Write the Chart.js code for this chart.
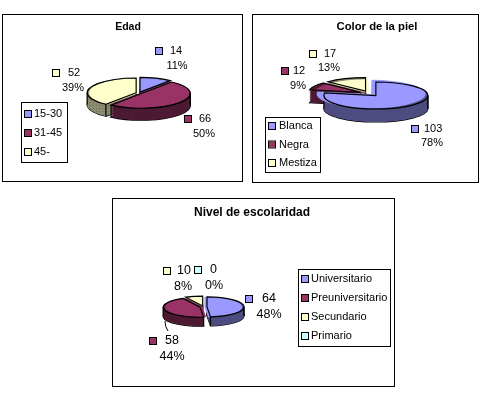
<!DOCTYPE html>
<html>
<head>
<meta charset="utf-8">
<title>Edad, color de la piel y nivel de escolaridad</title>
<script src="https://cdn.jsdelivr.net/npm/chart.js@4"></script>
<style>
  html, body { margin: 0; background: #fff; }
  #page { position: relative; width: 480px; height: 393px; overflow: hidden; }
  canvas { position: absolute; left: 0; top: 0; }
</style>
</head>
<body>
<div id="page">
  <canvas id="edad" width="480" height="393"></canvas>
  <canvas id="piel" width="480" height="393"></canvas>
  <canvas id="nivel" width="480" height="393"></canvas>
</div>
<script>
// data
const edadLabels = ['15-30', '31-45', '45-'];
const edadValues = [14, 66, 52];
const pielLabels = ['Blanca', 'Negra', 'Mestiza'];
const pielValues = [103, 12, 17];
const nivelLabels = ['Universitario', 'Preuniversitario', 'Secundario', 'Primario'];
const nivelValues = [64, 58, 10, 0];

const topColors = ['#9999FF', '#993366', '#FFFFCC', '#CCFFFF'];
const sideColors = ['#4D4D80', '#4D1A33', '#808066', '#668080'];
const FONT_FAMILY = '"Liberation Sans", Arial, sans-serif';

// the yellow wall is dithered in the original
function ditherFill(ctx) {
  const tile = document.createElement('canvas');
  tile.width = tile.height = 3;
  const t = tile.getContext('2d');
  t.fillStyle = '#8C8C70';
  t.fillRect(0, 0, 3, 3);
  t.fillStyle = '#6E6E58';
  t.fillRect(0, 0, 1, 1);
  return ctx.createPattern(tile, 'repeat');
}

function arcInfo(arc, p) {
  const mid = (arc.startAngle + arc.endAngle) / 2;
  return {
    x: arc.x + Math.cos(mid) * p.offset,
    y: arc.y + Math.sin(mid) * p.offset * p.tilt,
    r: arc.outerRadius, s: arc.startAngle, e: arc.endAngle
  };
}

function slicePath(ctx, a, tilt, dy) {
  ctx.save();
  ctx.translate(a.x, a.y + dy);
  ctx.scale(1, tilt);
  ctx.beginPath();
  ctx.moveTo(0, 0);
  ctx.arc(0, 0, a.r, a.s, a.e);
  ctx.closePath();
  ctx.restore();
}

function swatch(ctx, x, y, color) {
  ctx.fillStyle = color;
  ctx.fillRect(x - 3, y - 3, 6, 6);
  ctx.strokeStyle = '#000';
  ctx.lineWidth = 1;
  ctx.strokeRect(x - 3.5, y - 3.5, 7, 7);
}

// flattens the pie and pushes the side walls under it
const tiltedPie = {
  id: 'tiltedPie',
  beforeDatasetsDraw(chart, args, p) {
    const ctx = chart.ctx;
    const arcs = chart.getDatasetMeta(0).data;
    const order = arcs.map((arc, i) => ({ i, a: arcInfo(arc, p) }))
      .filter(o => o.a.e > o.a.s)
      .sort((u, v) => u.a.y - v.a.y);
    ctx.lineWidth = 1.2;
    ctx.strokeStyle = '#000';
    order.forEach(({ i, a }) => {
      slicePath(ctx, a, p.tilt, p.depth);
      ctx.stroke();
      ctx.fillStyle = i === 2 ? ditherFill(ctx) : sideColors[i];
      for (let d = p.depth; d >= 0; d--) {
        slicePath(ctx, a, p.tilt, d);
        ctx.fill();
      }
      // corners of the wall that face the viewer
      [a.s, a.e, Math.PI, Math.PI * 2, 0].forEach(t => {
        const inside = (t >= a.s && t <= a.e) || (t - Math.PI * 2 >= a.s && t - Math.PI * 2 <= a.e);
        if (!inside || Math.sin(t) < -0.01) return;
        const px = a.x + Math.cos(t) * a.r;
        const py = a.y + Math.sin(t) * a.r * p.tilt;
        ctx.beginPath();
        ctx.moveTo(px, py);
        ctx.lineTo(px, py + p.depth);
        ctx.stroke();
      });
      ctx.beginPath();
      ctx.moveTo(a.x, a.y);
      ctx.lineTo(a.x, a.y + p.depth);
      ctx.stroke();
    });
    const c = arcs[0];
    ctx.save();
    ctx.translate(c.x, c.y);
    ctx.scale(1, p.tilt);
    ctx.translate(-c.x, -c.y);
  },
  afterDatasetsDraw(chart, args, p) {
    const ctx = chart.ctx;
    ctx.restore();
    ctx.lineWidth = 1.2;
    ctx.strokeStyle = '#000';
    chart.getDatasetMeta(0).data.forEach(arc => {
      const a = arcInfo(arc, p);
      if (a.e <= a.s) return;
      slicePath(ctx, a, p.tilt, 0);
      ctx.stroke();
    });
  }
};

// frame, title, data labels and legend box, as the old spreadsheet laid them out
const sheetFrame = {
  id: 'sheetFrame',
  afterDraw(chart, args, p) {
    const ctx = chart.ctx;
    const labels = chart.data.labels;
    const values = chart.data.datasets[0].data;
    const total = values.reduce((s, v) => s + v, 0);
    ctx.save();
    ctx.strokeStyle = '#000';
    ctx.lineWidth = 1;
    ctx.strokeRect(p.frame[0] + 0.5, p.frame[1] + 0.5, p.frame[2], p.frame[3]);
    ctx.fillStyle = '#000';
    ctx.textBaseline = 'middle';
    ctx.font = 'bold ' + p.titleSize + 'px ' + FONT_FAMILY;
    ctx.textAlign = 'center';
    ctx.fillText(p.title, p.titlePos[0], p.titlePos[1]);

    ctx.font = p.labelSize + 'px ' + FONT_FAMILY;
    p.dataLabels.forEach((d, i) => {
      swatch(ctx, d.sx, d.sy, topColors[i]);
      ctx.fillStyle = '#000';
      ctx.textAlign = 'left';
      ctx.fillText(String(values[i]), d.vx, d.sy);
      ctx.textAlign = 'center';
      ctx.fillText(Math.round(values[i] / total * 100) + '%', d.px, d.py);
    });

    if (p.leader) {
      ctx.strokeStyle = '#000';
      ctx.beginPath();
      ctx.moveTo(p.leader[0], p.leader[1]);
      ctx.quadraticCurveTo(p.leader[0], p.leader[3] - 4, p.leader[2], p.leader[3]);
      ctx.stroke();
    }

    const b = p.legend;
    ctx.font = '11px ' + FONT_FAMILY;
    ctx.fillStyle = '#fff';
    ctx.fillRect(b.x, b.y, b.w, b.h);
    ctx.strokeStyle = '#000';
    ctx.strokeRect(b.x + 0.5, b.y + 0.5, b.w, b.h);
    labels.forEach((name, i) => {
      const y = b.first + i * b.step;
      swatch(ctx, b.sx, y, topColors[i]);
      ctx.fillStyle = '#000';
      ctx.textAlign = 'left';
      ctx.fillText(name, b.tx, y);
    });
    ctx.restore();
  }
};

function centerPadding(cx, cy, w, h) {
  return {
    left: Math.max(0, 2 * cx - w), right: Math.max(0, w - 2 * cx),
    top: Math.max(0, 2 * cy - h), bottom: Math.max(0, h - 2 * cy)
  };
}

function drawPie(id, labels, values, opts) {
  const canvas = document.getElementById(id);
  return new Chart(canvas.getContext('2d'), {
    type: 'pie',
    data: {
      labels: labels,
      datasets: [{
        data: values,
        backgroundColor: topColors,
        borderWidth: 0,
        offset: opts.tilted.offset,
        clip: false
      }]
    },
    options: {
      responsive: false,
      animation: false,
      radius: opts.radius,
      layout: { padding: centerPadding(opts.cx, opts.cy, canvas.width, canvas.height) },
      plugins: {
        legend: { display: false },
        tooltip: { enabled: false },
        title: { display: false },
        tiltedPie: opts.tilted,
        sheetFrame: opts.sheet
      }
    },
    plugins: [tiltedPie, sheetFrame]
  });
}

drawPie('edad', edadLabels, edadValues, {
  cx: 139, cy: 93, radius: 49,
  tilted: { tilt: 0.3, depth: 12, offset: 3 },
  sheet: {
    frame: [2, 14, 240, 167], title: 'Edad', titlePos: [128, 27], titleSize: 10.5, labelSize: 11,
    dataLabels: [
      { sx: 159, sy: 51, vx: 170, px: 177, py: 66 },
      { sx: 188, sy: 119, vx: 199, px: 204, py: 134 },
      { sx: 56, sy: 73, vx: 68, px: 73, py: 88 }
    ],
    legend: { x: 21, y: 102, w: 46, h: 60, first: 114, step: 19, sx: 28, tx: 34 }
  }
});

drawPie('piel', pielLabels, pielValues, {
  cx: 369.5, cy: 93.5, radius: 52,
  tilted: { tilt: 0.26, depth: 13, offset: 10 },
  sheet: {
    frame: [252, 14, 226, 168], title: 'Color de la piel', titlePos: [377, 27], titleSize: 11.3, labelSize: 11,
    dataLabels: [
      { sx: 415, sy: 129, vx: 424, px: 432, py: 143 },
      { sx: 285, sy: 71, vx: 293, px: 298, py: 86 },
      { sx: 313, sy: 54, vx: 324, px: 329, py: 68 }
    ],
    legend: { x: 265, y: 117, w: 55, h: 55, first: 126, step: 18.5, sx: 272, tx: 279 }
  }
});

drawPie('nivel', nivelLabels, nivelValues, {
  cx: 203.5, cy: 307, radius: 37,
  tilted: { tilt: 0.27, depth: 9, offset: 3.5 },
  sheet: {
    frame: [112, 198, 282, 188], title: 'Nivel de escolaridad', titlePos: [252, 213], titleSize: 12, labelSize: 12.5,
    dataLabels: [
      { sx: 249, sy: 299, vx: 262, px: 269, py: 315 },
      { sx: 153, sy: 341, vx: 165, px: 172, py: 357 },
      { sx: 167, sy: 271, vx: 177, px: 183, py: 287 },
      { sx: 198, sy: 270, vx: 210, px: 214, py: 286 }
    ],
    leader: [165, 321, 168, 331],
    legend: { x: 298, y: 269, w: 92, h: 77, first: 279, step: 19, sx: 305, tx: 311 }
  }
});
</script>
</body>
</html>
